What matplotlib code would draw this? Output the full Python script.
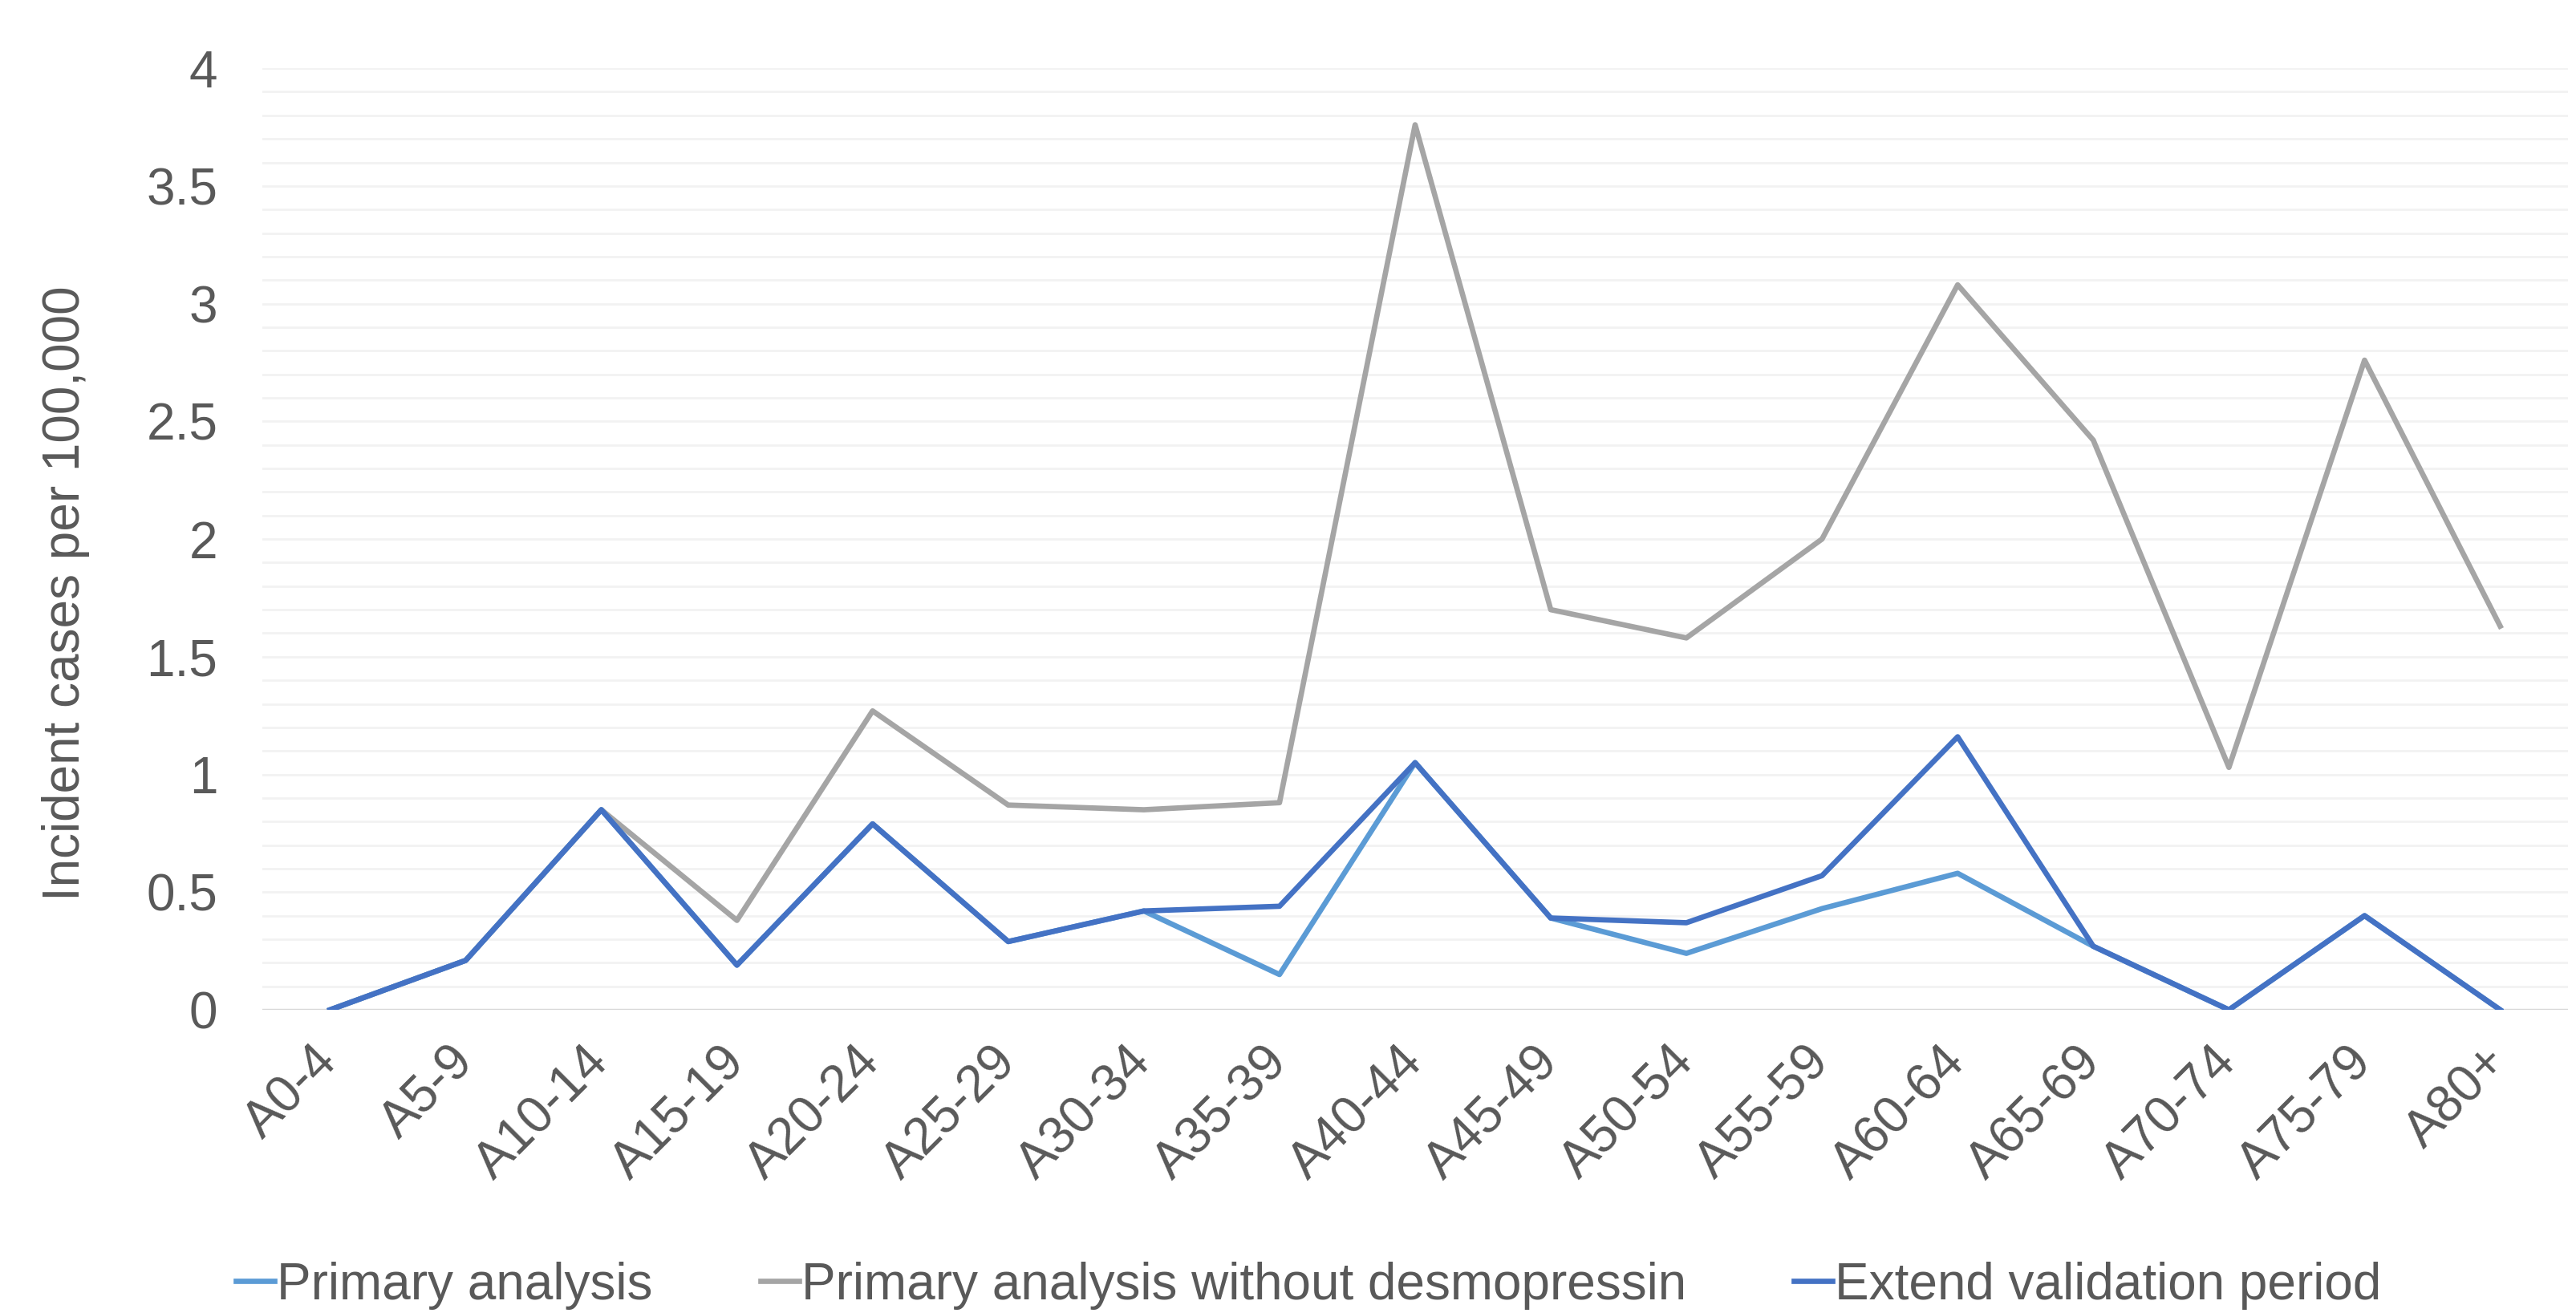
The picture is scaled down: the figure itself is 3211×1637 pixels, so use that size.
import numpy as np
import matplotlib
matplotlib.use("Agg")
import matplotlib.pyplot as plt

plt.rcParams['font.family'] = ['Liberation Sans', 'DejaVu Sans']

age_groups = ['A0-4', 'A5-9', 'A10-14', 'A15-19', 'A20-24', 'A25-29', 'A30-34',
              'A35-39', 'A40-44', 'A45-49', 'A50-54', 'A55-59', 'A60-64',
              'A65-69', 'A70-74', 'A75-79', 'A80+']

# incident cases per 100,000 by age group
primary = [0, 0.21, 0.85, 0.19, 0.79, 0.29, 0.42, 0.15, 1.05, 0.39, 0.24,
           0.43, 0.58, 0.27, 0, 0.40, 0]
no_desmopressin = [0, 0.21, 0.85, 0.38, 1.27, 0.87, 0.85, 0.88, 3.76, 1.70,
                   1.58, 2.00, 3.08, 2.42, 1.03, 2.76, 1.63]
extended = [0, 0.21, 0.85, 0.19, 0.79, 0.29, 0.42, 0.44, 1.05, 0.39, 0.37,
            0.57, 1.16, 0.27, 0, 0.40, 0]

text_col = '#595959'
fs = 46

fig = plt.figure(figsize=(32.11, 16.37), dpi=100)
ax = fig.add_axes([0.1018, 0.2309, 0.8951, 0.7171])

x = np.arange(len(age_groups))
ax.plot(x, primary, color='#5B9BD5', lw=4.8, label='Primary analysis',
        solid_joinstyle='round', zorder=3)
ax.plot(x, no_desmopressin, color='#A5A5A5', lw=4.8,
        label='Primary analysis without desmopressin', solid_joinstyle='round', zorder=2)
ax.plot(x, extended, color='#4472C4', lw=4.8, label='Extend validation period',
        solid_joinstyle='round', zorder=4)

ax.set_xlim(-0.5, len(age_groups) - 0.5)
ax.set_ylim(0, 4)

# light gridlines every 0.1, darker baseline at zero
for v in np.arange(0.1, 4.01, 0.1):
    ax.axhline(v, color='#F2F2F2', lw=2, zorder=0)
ax.axhline(0, color='#D9D9D9', lw=2.5, zorder=1)

for s in ax.spines.values():
    s.set_visible(False)

ax.set_yticks(np.arange(0, 4.01, 0.5))
ax.set_yticklabels(['0', '0.5', '1', '1.5', '2', '2.5', '3', '3.5', '4'])
ax.set_xticks(x)
ax.set_xticklabels(age_groups, rotation=45, ha='right', va='center',
                   rotation_mode='anchor')
ax.tick_params(axis='y', length=0, pad=40, labelsize=fs, labelcolor=text_col)
ax.tick_params(axis='x', length=0, pad=40, labelsize=fs, labelcolor=text_col)

fig.text(82 / 3211, 1 - 740 / 1637, 'Incident cases per 100,000', rotation=90,
         ha='center', va='center', fontsize=fs, color=text_col)

fig.legend(loc='center', bbox_to_anchor=(0.508, 0.021), ncol=3, frameon=False,
           fontsize=fs, labelcolor=text_col, handlelength=0.75,
           handletextpad=0.05, columnspacing=2.1, borderaxespad=0)

fig.savefig('out.png', dpi=100)
